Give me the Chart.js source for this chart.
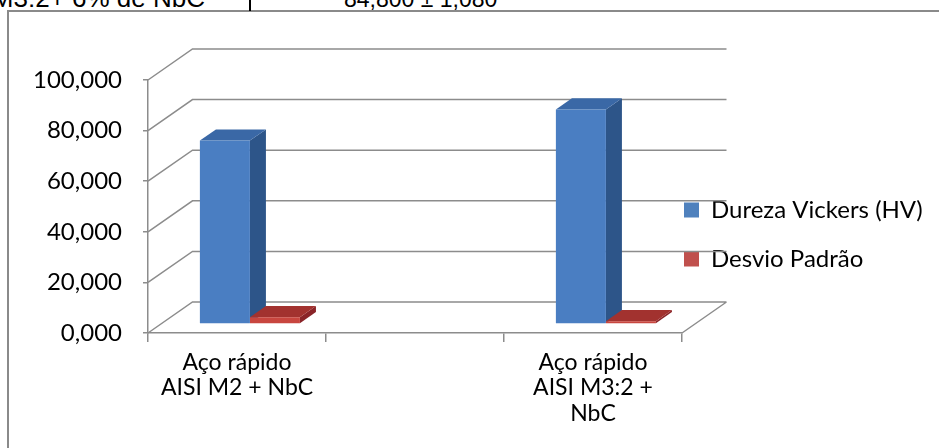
<!DOCTYPE html>
<html>
<head>
<meta charset="utf-8">
<script src="https://cdn.jsdelivr.net/npm/chart.js@4/dist/chart.umd.min.js"></script>
<style>
  html, body { margin: 0; padding: 0; background: #fff; }
  #page { position: relative; width: 939px; height: 448px; overflow: hidden; background: #fff; }
  #frame { position: absolute; left: 7px; top: 10px; width: 1100px; height: 600px; border: 2px solid #8a8a8a; }
  .cell { position: absolute; font-family: "Liberation Sans", Arial, sans-serif; white-space: nowrap; color: #000; }
  #cellLeft { right: 734px; top: -15px; font-size: 26px; line-height: 26px; }
  #cellRight { left: 344px; top: -12px; font-size: 23px; line-height: 23px; }
  #cellRule { position: absolute; left: 249px; top: 0; width: 2px; height: 11px; background: #000; }
  #chart { position: absolute; left: 0; top: 0; }
</style>
</head>
<body>
<div id="page">
  <div id="frame"></div>
  <span class="cell" id="cellLeft">AISI M3:2+ 6% de NbC</span>
  <div id="cellRule"></div>
  <span class="cell" id="cellRight">84,800 ± 1,080</span>
  <canvas id="chart" width="939" height="448"></canvas>
</div>
<script>
// Categories (the middle one is an empty slot in the sheet)
const categories = [
  ['Aço rápido', 'AISI M2 + NbC'],
  '',
  ['Aço rápido', 'AISI M3:2 +', 'NbC']
];
const seriesNames = ['Dureza Vickers (HV)', 'Desvio Padrão'];
const hardnessHV = [72.5, null, 84.8];
const stdDeviation = [2.7, null, 1.08];
const yMin = 0, yMax = 100, yStep = 20;

// Colours for the three visible faces of each column
const frontColors = ['#4a7ec2', '#c8463f'];
const sideColors = ['#2d5589', '#8a2428'];
const topColors = ['#3a68a6', '#a2322f'];
const legendColors = ['#4f81bd', '#c0504d'];

// Oblique depth of the floor / walls, and where the columns sit within it
const DEPTH_X = 44.5, DEPTH_Y = -31;
const BAR_FRONT = 0.29, BAR_DEPTH = 0.36;
const WALL_COLOR = '#8c8c8c';

const FONT = { family: 'Lato, "Open Sans", sans-serif', size: 24, lineHeight: 1.05 };
const CAT_FONT = { family: 'Lato, "Open Sans", sans-serif', size: 23, lineHeight: 1.1 };

const depthPlugin = {
  id: 'depthPlugin',
  beforeDraw(chart) {
    // legend floats to the right of the floor, over the back wall
    const lg = chart.legend, a = chart.chartArea;
    const pad = lg.options.labels.padding;
    lg.left = a.right + 2 - pad;
    lg.right = chart.width;
    lg.top = 173;
    lg.bottom = chart.height;
  },
  beforeDatasetsDraw(chart) {
    const { ctx, chartArea: a, scales: { y } } = chart;
    ctx.save();
    ctx.strokeStyle = WALL_COLOR;
    ctx.lineWidth = 1.5;
    ctx.beginPath();
    // side wall diagonals + back wall gridlines
    y.ticks.forEach(t => {
      const py = y.getPixelForValue(t.value);
      ctx.moveTo(a.left, py);
      ctx.lineTo(a.left + DEPTH_X, py + DEPTH_Y);
      ctx.lineTo(a.right + DEPTH_X, py + DEPTH_Y);
    });
    // right edge of the floor
    ctx.moveTo(a.right, a.bottom);
    ctx.lineTo(a.right + DEPTH_X, a.bottom + DEPTH_Y);
    ctx.stroke();

    // side and top faces of the columns
    const fx = DEPTH_X * BAR_FRONT, fy = DEPTH_Y * BAR_FRONT;
    const bx = DEPTH_X * BAR_DEPTH, by = DEPTH_Y * BAR_DEPTH;
    chart.data.datasets.forEach((ds, i) => {
      const meta = chart.getDatasetMeta(i);
      meta.data.forEach((bar, j) => {
        if (ds.data[j] == null) return;
        const p = bar.getProps(['x', 'y', 'base', 'width'], true);
        const l = p.x - p.width / 2 + fx, r = p.x + p.width / 2 + fx;
        const t = p.y + fy, b = p.base + fy;
        ctx.fillStyle = sideColors[i];
        ctx.beginPath();
        ctx.moveTo(r, t); ctx.lineTo(r + bx, t + by); ctx.lineTo(r + bx, b + by); ctx.lineTo(r, b);
        ctx.closePath(); ctx.fill();
        ctx.fillStyle = topColors[i];
        ctx.beginPath();
        ctx.moveTo(l, t); ctx.lineTo(l + bx, t + by); ctx.lineTo(r + bx, t + by); ctx.lineTo(r, t);
        ctx.closePath(); ctx.fill();
      });
    });
    ctx.restore();
    // front faces are drawn by Chart.js, pushed into the depth of the floor
    ctx.save();
    ctx.translate(fx, fy);
  },
  afterDatasetsDraw(chart) {
    chart.ctx.restore();
  }
};

new Chart(document.getElementById('chart'), {
  type: 'bar',
  data: {
    labels: categories,
    datasets: [
      { label: seriesNames[0], data: hardnessHV, backgroundColor: frontColors[0], borderWidth: 0 },
      { label: seriesNames[1], data: stdDeviation, backgroundColor: frontColors[1], borderWidth: 0 }
    ]
  },
  options: {
    responsive: false,
    animation: false,
    events: [],
    layout: { padding: { left: 0, top: 80, right: 257, bottom: 0 } },
    datasets: { bar: { categoryPercentage: 0.562, barPercentage: 1 } },
    scales: {
      x: {
        grid: { offset: true, drawOnChartArea: false, drawTicks: true, tickLength: 9, color: WALL_COLOR, lineWidth: 1.5 },
        border: { display: true, color: WALL_COLOR, width: 1.5 },
        ticks: { color: '#000', font: CAT_FONT, padding: 8, autoSkip: false, maxRotation: 0, minRotation: 0 },
        afterFit(scale) { scale.height = 115; }
      },
      y: {
        min: yMin, max: yMax,
        grid: { drawOnChartArea: false, drawTicks: true, tickLength: 5, color: WALL_COLOR, lineWidth: 1.5 },
        border: { display: true, color: WALL_COLOR, width: 1.5 },
        ticks: {
          stepSize: yStep, color: '#000', font: FONT, padding: 21,
          callback: v => v.toFixed(3).replace('.', ',')
        },
        afterFit(scale) { scale.width = 148; }
      }
    },
    plugins: {
      tooltip: { enabled: false },
      legend: {
        position: 'chartArea',
        align: 'start',
        labels: {
          boxWidth: 15, boxHeight: 15, padding: 25, color: '#000', font: FONT,
          generateLabels: chart => chart.data.datasets.map((ds, i) => ({
            text: ds.label, fillStyle: legendColors[i], strokeStyle: legendColors[i],
            lineWidth: 0, hidden: false, datasetIndex: i
          }))
        }
      }
    }
  },
  plugins: [depthPlugin]
});
</script>
</body>
</html>
